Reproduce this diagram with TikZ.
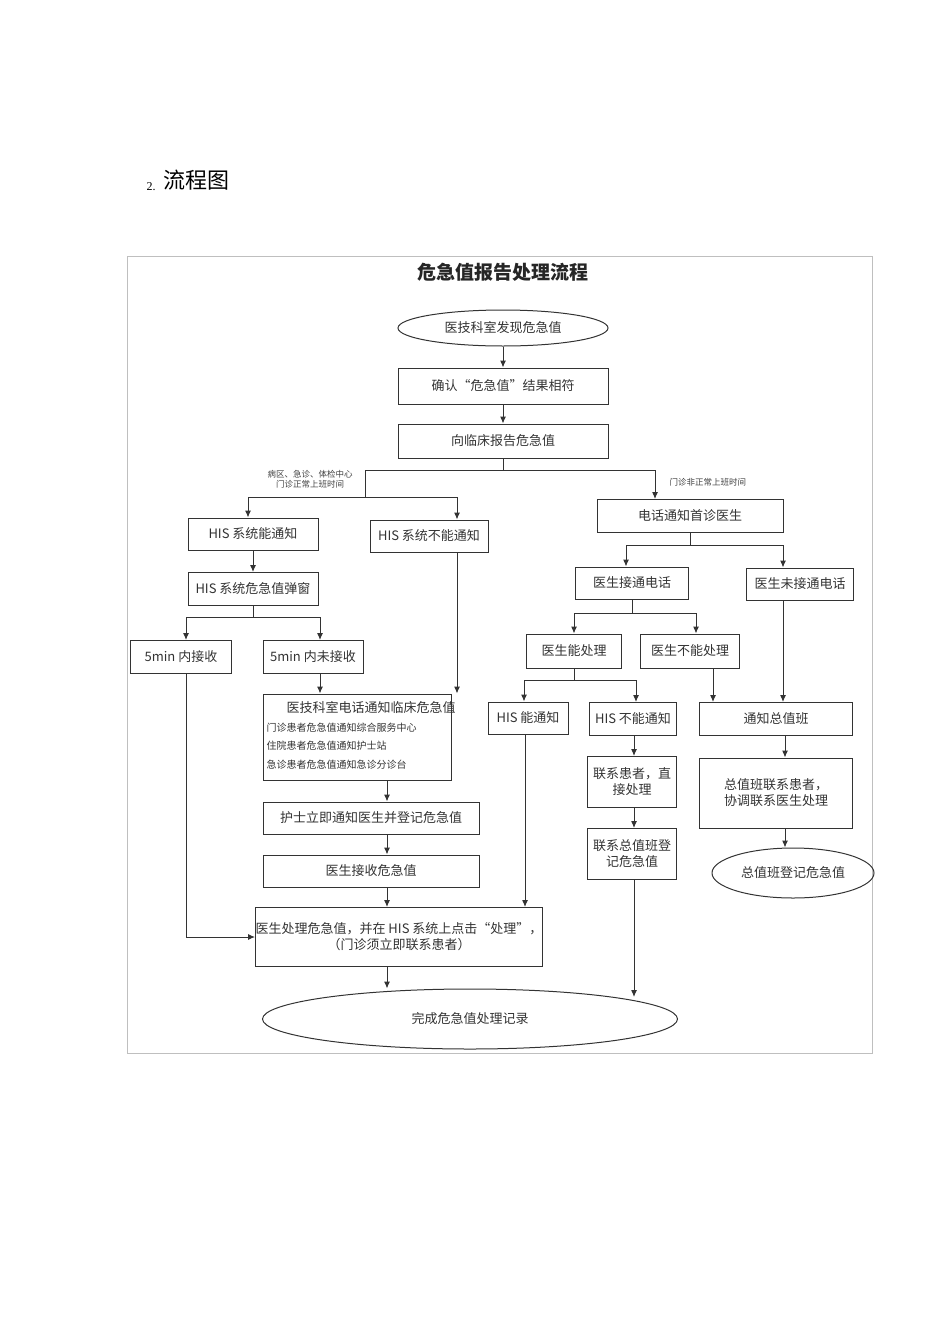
\documentclass[tikz,border=0pt]{standalone}
\usepackage{fontspec}
\setmainfont{Liberation Serif}
\newfontfamily\cjk{Noto Sans CJK SC}
\usetikzlibrary{arrows.meta,shapes.geometric}
\begin{document}
\begin{tikzpicture}[x=1pt,y=-1pt,
  box/.style={draw=black!80,line width=1pt,inner sep=0pt,font=\cjk\fontsize{13}{16}\selectfont,text=black!80},
  oval/.style={ellipse,draw=black!80,line width=1pt,inner sep=0pt,font=\cjk\fontsize{13}{16}\selectfont,text=black!80},
  lbl/.style={font=\cjk\fontsize{8.5}{10}\selectfont,text=black!75,align=center},
  ln/.style={draw=black!80,line width=1pt},
  ar/.style={ln,-{Latex[length=7pt,width=6pt]}}]
\useasboundingbox (0,0) rectangle (950,1344);
\node[font=\fontsize{12}{14}\selectfont,anchor=base west] (n2) at (143,190) {2.};
\node[font=\cjk\fontsize{22}{26}\selectfont,anchor=base west] (tt) at (160,188) {流程图};
\draw[black!25,line width=0.8pt] (127,256) rectangle (872,1053);
\node[font=\cjk\bfseries\fontsize{19}{22}\selectfont,text=black!85] (title) at (503,272) {危急值报告处理流程};
\node[oval,minimum width=210,minimum height=36] (e1) at (503,328) {医技科室发现危急值};
\node[box,minimum width=210,minimum height=36] (b1) at (503,386) {确认“危急值”结果相符};
\node[box,minimum width=210,minimum height=34] (b2) at (503,441) {向临床报告危急值};
\node[box,minimum width=130,minimum height=32] (h1) at (253,534) {HIS 系统能通知};
\node[box,minimum width=118,minimum height=32] (h2) at (429,536) {HIS 系统不能通知};
\node[box,minimum width=130,minimum height=33] (h3) at (253,589) {HIS 系统危急值弹窗};
\node[box,minimum width=101,minimum height=33] (m1) at (181,657) {5min 内接收};
\node[box,minimum width=100,minimum height=33] (m2) at (313,657) {5min 内未接收};
\node[box,minimum width=188,minimum height=86] (p1) at (357,737) {};
\node[font=\cjk\fontsize{13}{16}\selectfont,text=black!80] (p1t) at (371,708) {医技科室电话通知临床危急值};
\node[font=\cjk\fontsize{10}{12}\selectfont,text=black!80,anchor=west] (p1a) at (263,728) {门诊患者危急值通知综合服务中心};
\node[font=\cjk\fontsize{10}{12}\selectfont,text=black!80,anchor=west] (p1b) at (263,746) {住院患者危急值通知护士站};
\node[font=\cjk\fontsize{10}{12}\selectfont,text=black!80,anchor=west] (p1c) at (263,765) {急诊患者危急值通知急诊分诊台};
\node[box,minimum width=216,minimum height=32] (p2) at (371,818) {护士立即通知医生并登记危急值};
\node[box,minimum width=216,minimum height=32] (p3) at (371,871) {医生接收危急值};
\node[box,minimum width=272,minimum height=59,align=center] (p4) at (399,937) {医生处理危急值，并在 HIS 系统上点击“处理”，\\（门诊须立即联系患者）};
\node[oval,minimum width=415,minimum height=60] (e2) at (470,1019) {完成危急值处理记录};
\node[box,minimum width=186,minimum height=33] (t1) at (690,516) {电话通知首诊医生};
\node[box,minimum width=113,minimum height=32] (d1) at (632,583) {医生接通电话};
\node[box,minimum width=107,minimum height=32] (d2) at (800,584) {医生未接通电话};
\node[box,minimum width=95,minimum height=34] (c1) at (574,651) {医生能处理};
\node[box,minimum width=99,minimum height=34] (c2) at (690,651) {医生不能处理};
\node[box,minimum width=80,minimum height=32] (n1) at (528,718) {HIS 能通知};
\node[box,minimum width=87,minimum height=33] (n2b) at (633,719) {HIS 不能通知};
\node[box,minimum width=153,minimum height=33] (v1) at (776,719) {通知总值班};
\node[box,minimum width=153,minimum height=70,align=center] (v2) at (776,793) {总值班联系患者，\\协调联系医生处理};
\node[oval,minimum width=162,minimum height=50] (e3) at (793,873) {总值班登记危急值};
\node[box,minimum width=89,minimum height=51,align=center] (k1) at (632,782) {联系患者，直\\接处理};
\node[box,minimum width=89,minimum height=51,align=center] (k2) at (632,854) {联系总值班登\\记危急值};
\node[lbl] (la) at (310,479) {病区、急诊、体检中心\\门诊正常上班时间};
\node[lbl,anchor=west] (lb) at (666,482) {门诊非正常上班时间};
\coordinate (j0) at (503,470);
\draw[ar] (e1) -- (b1);
\draw[ar] (b1) -- (b2);
\draw[ln] (b2) -- (j0);
\draw[ln] (365,470) -- (655,470);
\draw[ar] (655,470) -- (t1.north -| 655,0);
\draw[ln] (365,470) -- (365,497);
\draw[ln] (248,497) -- (457,497);
\draw[ar] (248,497) -- (h1.north -| 248,0);
\draw[ar] (457,497) -- (h2.north -| 457,0);
\draw[ar] (h1) -- (h3);
\draw[ln] (h3.south) -- (253,617);
\draw[ln] (186,617) -- (320,617);
\draw[ar] (186,617) -- (m1.north -| 186,0);
\draw[ar] (320,617) -- (m2.north -| 320,0);
\draw[ar] (m2.south -| 320,0) -- (p1.north -| 320,0);
\draw[ar] (h2.south -| 457,0) -- (p1.north -| 457,0);
\draw[ar] (p1.south -| 387,0) -- (p2.north -| 387,0);
\draw[ar] (p2.south -| 387,0) -- (p3.north -| 387,0);
\draw[ar] (p3.south -| 387,0) -- (p4.north -| 387,0);
\draw[ar] (m1.south -| 186,0) |- (p4.west);
\draw[ar] (p4.south -| 387,0) -- (e2.north -| 387,0);
\draw[ar] (n1.south -| 525,0) -- (p4.north -| 525,0);
\draw[ln] (t1.south) -- (690,545);
\draw[ln] (626,545) -- (783,545);
\draw[ar] (626,545) -- (d1.north -| 626,0);
\draw[ar] (783,545) -- (d2.north -| 783,0);
\draw[ln] (d1.south) -- (632,613);
\draw[ln] (574,613) -- (696,613);
\draw[ar] (574,613) -- (c1.north);
\draw[ar] (696,613) -- (c2.north -| 696,0);
\draw[ln] (c1.south) -- (574,680);
\draw[ln] (524,680) -- (636,680);
\draw[ar] (524,680) -- (n1.north -| 524,0);
\draw[ar] (636,680) -- (n2b.north -| 636,0);
\draw[ar] (c2.south -| 713,0) -- (v1.north -| 713,0);
\draw[ar] (d2.south -| 783,0) -- (v1.north -| 783,0);
\draw[ar] (v1.south -| 785,0) -- (v2.north -| 785,0);
\draw[ar] (v2.south -| 785,0) -- (e3.north -| 785,0);
\draw[ar] (n2b.south -| 634,0) -- (k1.north -| 634,0);
\draw[ar] (k1.south -| 634,0) -- (k2.north -| 634,0);
\coordinate (ek) at (634,997);
\draw[ar] (k2.south -| 634,0) -- (ek);
\end{tikzpicture}
\end{document}
